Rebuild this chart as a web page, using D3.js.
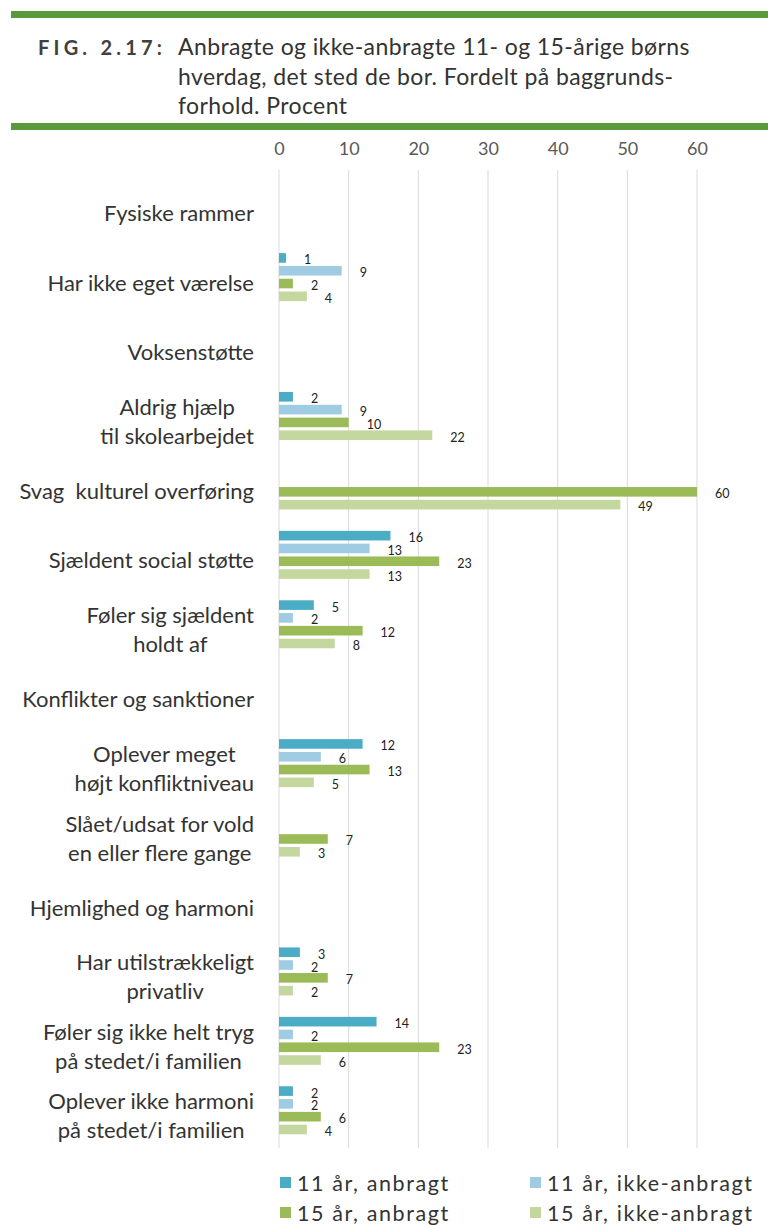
<!DOCTYPE html>
<html>
<head>
<meta charset="utf-8">
<script src="https://cdn.jsdelivr.net/npm/d3@7"></script>
<style>
  html, body { margin: 0; padding: 0; background: #fff; }
  svg { display: block; }
  text { font-family: Lato, "Noto Sans", sans-serif; }
</style>
</head>
<body>
<div id="chart"></div>
<script>
// ---------- data ----------
const categories = [
  "Fysiske rammer",
  "Har ikke eget værelse",
  "Voksenstøtte",
  "Aldrig hjælp|til skolearbejdet",
  "Svag  kulturel overføring",
  "Sjældent social støtte",
  "Føler sig sjældent|holdt af",
  "Konflikter og sanktioner",
  "Oplever meget|højt konfliktniveau",
  "Slået/udsat for vold|en eller flere gange",
  "Hjemlighed og harmoni",
  "Har utilstrækkeligt|privatliv",
  "Føler sig ikke helt tryg|på stedet/i familien",
  "Oplever ikke harmoni|på stedet/i familien"
];
const seriesNames = ["11 år, anbragt", "11 år, ikke-anbragt", "15 år, anbragt", "15 år, ikke-anbragt"];
const s11Anbragt     = [null, 1, null, 2, null, 16, 5, null, 12, null, null, 3, 14, 2];
const s11IkkeAnbragt = [null, 9, null, 9, null, 13, 2, null, 6, null, null, 2, 2, 2];
const s15Anbragt     = [null, 2, null, 10, 60, 23, 12, null, 13, 7, null, 7, 23, 6];
const s15IkkeAnbragt = [null, 4, null, 22, 49, 13, 8, null, 5, 3, null, 2, 6, 4];
const xTicks = [0, 10, 20, 30, 40, 50, 60];
const seriesColors = ["#4bacc6", "#9fcbe3", "#9bbb59", "#c4d79e"];
const titleLabel = "FIG. 2.17:";
const titleLines = ["Anbragte og ikke-anbragte 11- og 15-årige børns",
                    "hverdag, det sted de bor. Fordelt på baggrunds-",
                    "forhold. Procent"];

const seriesValues = [s11Anbragt, s11IkkeAnbragt, s15Anbragt, s15IkkeAnbragt];

// ---------- layout ----------
const W = 768, H = 1226;
const svg = d3.select("#chart").append("svg").attr("width", W).attr("height", H);
svg.append("rect").attr("width", W).attr("height", H).attr("fill", "#fff");

// title
const green = "#5b9a3c";
svg.append("rect").attr("x", 11).attr("y", 11).attr("width", W - 11).attr("height", 7).attr("fill", green);
svg.append("rect").attr("x", 11).attr("y", 123).attr("width", W - 11).attr("height", 7).attr("fill", green);
svg.append("text").attr("x", 38).attr("y", 55)
  .attr("font-size", 20).attr("font-weight", "bold").attr("letter-spacing", "4.2px")
  .attr("fill", "#404040").text(titleLabel);
titleLines.forEach((t, i) => {
  svg.append("text").attr("x", 178).attr("y", 55 + i * 29.5)
    .attr("font-size", 23).attr("letter-spacing", "0.4px").attr("fill", "#333").text(t);
});

// scales
const x = d3.scaleLinear().domain([0, 60]).range([279, 697]);
const y = d3.scaleBand().domain(d3.range(categories.length)).range([173, 1145]);
const y1 = d3.scaleBand().domain(d3.range(4)).range([-24, 24]).paddingInner(0.25);

// gridlines
svg.append("g").selectAll("line").data(xTicks).join("line")
  .attr("x1", d => x(d)).attr("x2", d => x(d))
  .attr("y1", 170).attr("y2", 1148)
  .attr("stroke", "#d9d9d9").attr("stroke-width", 1);

// top axis
const axis = d3.axisTop(x).tickValues(xTicks).tickSize(0).tickPadding(0);
const gAxis = svg.append("g").attr("transform", "translate(0,155)").call(axis);
gAxis.select(".domain").remove();
gAxis.selectAll("text").attr("font-size", 18).attr("fill", "#595959")
  .attr("font-family", "Lato, sans-serif");

// bars
const rows = categories.map((c, i) => ({ i, label: c, vals: seriesValues.map(s => s[i]) }));
const gRows = svg.append("g").selectAll("g").data(rows).join("g")
  .attr("transform", d => `translate(0,${y(d.i) + y.bandwidth() / 2})`);

gRows.each(function(d) {
  const g = d3.select(this);
  const items = d.vals.map((v, k) => ({ v, k })).filter(e => e.v != null);
  g.selectAll("rect").data(items).join("rect")
    .attr("x", x(0)).attr("y", e => y1(e.k))
    .attr("width", e => x(e.v) - x(0)).attr("height", y1.bandwidth())
    .attr("fill", e => seriesColors[e.k]);
  g.selectAll("text.val").data(items).join("text").attr("class", "val")
    .attr("x", e => x(e.v) + 18).attr("y", e => y1(e.k) + y1.bandwidth() / 2 + 2)
    .attr("dominant-baseline", "central")
    .attr("font-size", 12.5).attr("fill", "#222").text(e => e.v);
});

// category labels (right edge at 254, multi-line centered)
const labelRight = 254;
gRows.each(function(d) {
  const g = d3.select(this);
  const lines = d.label.split("|");
  const lh = 29;
  const texts = lines.map((ln, j) => g.append("text")
    .attr("y", 5 + (j - (lines.length - 1) / 2) * lh)
    .attr("dominant-baseline", "central")
    .attr("text-anchor", "middle")
    .attr("font-size", 22).attr("fill", "#333")
    .style("white-space", "pre")
    .text(ln));
  const maxW = d3.max(texts, t => t.node().getComputedTextLength());
  texts.forEach(t => t.attr("x", labelRight - maxW / 2));
});

// legend
const legendPos = [[280, 1183], [530, 1183], [280, 1213], [530, 1213]];
const gl = svg.append("g").selectAll("g").data(seriesNames).join("g")
  .attr("transform", (d, i) => `translate(${legendPos[i][0]},${legendPos[i][1]})`);
gl.append("rect").attr("x", 0).attr("y", -6).attr("width", 11).attr("height", 11)
  .attr("fill", (d, i) => seriesColors[i]);
gl.append("text").attr("x", 17).attr("y", 0).attr("dominant-baseline", "central")
  .attr("font-size", 21.5).attr("letter-spacing", "1.6px").attr("fill", "#333").text(d => d);
</script>
</body>
</html>
